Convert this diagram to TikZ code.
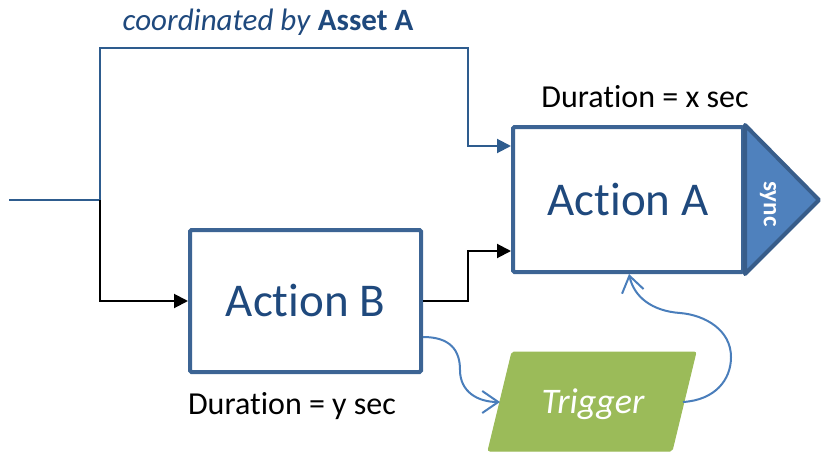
\documentclass[tikz,border=0pt]{standalone}
\usepackage{fontspec}
\setmainfont[Ligatures={NoCommon}]{Carlito}
\usetikzlibrary{arrows.meta}
\definecolor{boxline}{HTML}{3C6494}
\definecolor{boxtext}{HTML}{1F497D}
\definecolor{flowblue}{HTML}{2E5C8E}
\definecolor{syncfill}{HTML}{4F81BD}
\definecolor{syncline}{HTML}{385D8A}
\definecolor{curveblue}{HTML}{4A7EBB}
\definecolor{trigfill}{HTML}{9BBB59}
\tikzset{
  actionbox/.style={draw=boxline, line width=4pt, fill=white, rounded corners=1.5pt,
    text=boxtext, font=\fontsize{47}{50}\selectfont, inner sep=0pt},
  flowline/.style={line width=2pt, -{Triangle[length=14pt,width=14pt]}},
  trigline/.style={draw=curveblue, line width=2pt, -{Straight Barb[length=16pt,width=22pt,line width=2pt]}},
  caption/.style={font=\fontsize{32}{36}\selectfont, inner sep=0pt},
}
\begin{document}
\begin{tikzpicture}[x=1pt, y=-1pt]
\useasboundingbox (0,0) rectangle (821,452);

% action boxes
\node[actionbox, minimum width=230pt, minimum height=145pt] (A) at (628,199.5) {Action A};
\node[actionbox, minimum width=231pt, minimum height=142pt] (B) at (305.5,301) {Action B};

% sync flag on the right side of Action A
\coordinate (tip) at (819,200);
\draw[fill=syncfill, draw=syncline, line width=4pt, line join=round]
  (A.north east) -- (tip) -- (A.south east) -- cycle;
\node[rotate=-90, text=white, font=\fontsize{25}{27}\selectfont\bfseries, inner sep=0pt]
  (sync) at (768,204) {sync};

% trigger parallelogram
\draw[fill=trigfill, draw=trigfill, line width=1pt, rounded corners=2pt]
  (512,352) -- (696,352) -- (672,451) -- (488,451) -- cycle;
\node[text=white, font=\fontsize{36}{40}\selectfont\itshape, inner sep=0pt] (T) at (593,404) {Trigger};
\coordinate (Tl) at (500,402);
\coordinate (Tr) at (683,402);

% incoming line and split
\coordinate (in) at (9,200);
\coordinate (split) at (100,200);
\draw[flowblue, line width=2pt] (in) -- (split);
\draw[flowblue, flowline] (split) |- (468,48) |- ([yshift=53.5pt]A.west);
\draw[black, flowline] (split) |- (B.west);
\draw[black, flowline] (B.east) -- (468,301) |- ([yshift=-51.5pt]A.west);

% trigger connectors
\draw[trigline] ([yshift=-36pt]B.east) .. controls (450,337) and (460,350) .. (460,370)
  .. controls (460,392) and (478,402) .. (Tl);
\draw[trigline] (Tr) .. controls (715,400) and (731,380) .. (731,357)
  .. controls (731,330) and (705,315) .. (680,313)
  .. controls (652,311) and (634,297) .. ([xshift=1pt]A.south);

% labels
\node[caption] (dx) at (645,97) {Duration = x sec};
\node[caption] (dy) at (292,406) {Duration = y sec};
\node[font=\fontsize{31}{34}\selectfont, text=boxtext, inner sep=0pt] (coord) at (268,22)
  {\textit{coordinated by} \textbf{Asset A}};
\end{tikzpicture}
\end{document}
